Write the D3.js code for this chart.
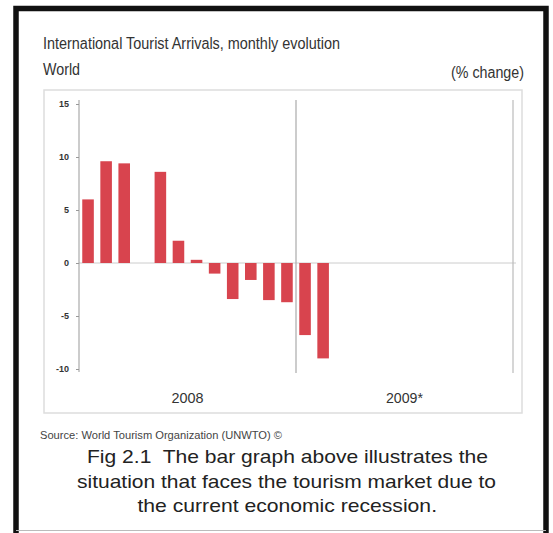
<!DOCTYPE html>
<html>
<head>
<meta charset="utf-8">
<script src="https://cdn.jsdelivr.net/npm/d3@7"></script>
<style>
  html, body { margin: 0; padding: 0; background: #fff; }
  svg { display: block; }
  text { white-space: pre; }
</style>
</head>
<body>
<svg id="chart" width="553" height="533"></svg>
<script>
// ---- data ----
const months = ["Jan","Feb","Mar","Apr","May","Jun","Jul","Aug","Sep","Oct","Nov","Dec"];
const years = ["2008", "2009*"];
// monthly % change, 2008 then 2009 (null = no bar shown)
const values2008 = [6.0, 9.6, 9.4, null, 8.6, 2.1, 0.3, -1.0, -3.4, -1.6, -3.5, -3.7];
const values2009 = [-6.8, -9.0, null, null, null, null, null, null, null, null, null, null];
const yTicks = [15, 10, 5, 0, -5, -10];
const titleText = "International Tourist Arrivals, monthly evolution";
const subtitleText = "World";
const unitText = "(% change)";
const sourceText = "Source: World Tourism Organization (UNWTO) \u00A9";
const captionLines = [
  "Fig 2.1  The bar graph above illustrates the",
  "situation that faces the tourism market due to",
  "the current economic recession."
];

const data = [];
years.forEach((yr, yi) => {
  const vals = yi === 0 ? values2008 : values2009;
  months.forEach((m, mi) => data.push({ key: m + " " + yr, year: yr, value: vals[mi] }));
});

const svg = d3.select("#chart");
const narrow = "'Liberation Sans Narrow', 'Liberation Sans', Arial, sans-serif";
const sans = "'Liberation Sans', Arial, sans-serif";

// outer frame
svg.append("path")
  .attr("d", "M16,533 L16,8.5 L546,8.5 L546,533")
  .attr("fill", "none").attr("stroke", "#111").attr("stroke-width", 5.5);
svg.append("line").attr("x1", 16).attr("x2", 546).attr("y1", 530.5).attr("y2", 530.5)
  .attr("stroke", "#bbb").attr("stroke-width", 1);

// inner chart box
svg.append("rect").attr("x", 44).attr("y", 90).attr("width", 478).attr("height", 323)
  .attr("fill", "none").attr("stroke", "#ddd").attr("stroke-width", 1.5);

// header texts
svg.append("text").attr("x", 43).attr("y", 49).text(titleText)
  .attr("font-family", narrow).attr("font-size", 16).attr("fill", "#333")
  .attr("textLength", 297).attr("lengthAdjust", "spacingAndGlyphs");
svg.append("text").attr("x", 43).attr("y", 75).text(subtitleText)
  .attr("font-family", narrow).attr("font-size", 16).attr("fill", "#333")
  .attr("textLength", 37).attr("lengthAdjust", "spacingAndGlyphs");
svg.append("text").attr("x", 451).attr("y", 78).text(unitText)
  .attr("font-family", narrow).attr("font-size", 16).attr("fill", "#333")
  .attr("textLength", 73).attr("lengthAdjust", "spacingAndGlyphs");

// scales
const x = d3.scaleBand().domain(data.map(d => d.key)).range([79, 513])
  .paddingInner(0.36).paddingOuter(0.18);
const y = d3.scaleLinear().domain([-10, 15]).range([369, 104]);

// zero line
svg.append("line").attr("x1", 79).attr("x2", 516).attr("y1", y(0)).attr("y2", y(0))
  .attr("stroke", "#ccc").attr("stroke-width", 1);

// year dividers
const yearStart = yr => x(months[0] + " " + yr) - x.step() * x.paddingInner() / 2;
svg.append("line").attr("x1", yearStart(years[1])).attr("x2", yearStart(years[1]))
  .attr("y1", 100).attr("y2", 373).attr("stroke", "#aaa").attr("stroke-width", 1.2);
svg.append("line").attr("x1", 513).attr("x2", 513)
  .attr("y1", 100).attr("y2", 373).attr("stroke", "#bbb").attr("stroke-width", 1.2);

// y axis
const yAxis = svg.append("g").attr("transform", "translate(79,0)")
  .call(d3.axisLeft(y).tickValues(yTicks).tickSize(3).tickPadding(7)
    .tickFormat(d => String(d)));
yAxis.select(".domain").attr("stroke", "#999").attr("d", "M0,100V372");
yAxis.selectAll(".tick line").attr("stroke", "#999");
yAxis.selectAll("text").attr("font-family", narrow).attr("font-size", 9)
  .attr("fill", "#333").attr("font-weight", "bold");

// bars
svg.append("g").selectAll("rect")
  .data(data.filter(d => d.value !== null))
  .join("rect")
  .attr("x", d => x(d.key))
  .attr("width", x.bandwidth())
  .attr("y", d => y(Math.max(0, d.value)))
  .attr("height", d => Math.abs(y(d.value) - y(0)))
  .attr("fill", "#d8444e");

// year labels
years.forEach((yr, i) => {
  const cx = yearStart(yr) + x.step() * 6;
  svg.append("text").attr("x", cx).attr("y", 403).attr("text-anchor", "middle").text(yr)
    .attr("font-family", narrow).attr("font-size", 15).attr("fill", "#333")
    .attr("textLength", i === 0 ? 32 : 37).attr("lengthAdjust", "spacingAndGlyphs");
});

// source
svg.append("text").attr("x", 40).attr("y", 439).text(sourceText)
  .attr("font-family", narrow).attr("font-size", 11).attr("fill", "#444")
  .attr("textLength", 242).attr("lengthAdjust", "spacingAndGlyphs");

// caption
const capX = [[87, 488], [77, 496], [137.5, 437]];
const capY = [463, 488, 512];
captionLines.forEach((t, i) => {
  svg.append("text").attr("x", capX[i][0]).attr("y", capY[i]).text(t)
    .attr("font-family", sans).attr("font-size", 19).attr("fill", "#222")
    .attr("textLength", capX[i][1] - capX[i][0]).attr("lengthAdjust", "spacingAndGlyphs");
});
</script>
</body>
</html>
